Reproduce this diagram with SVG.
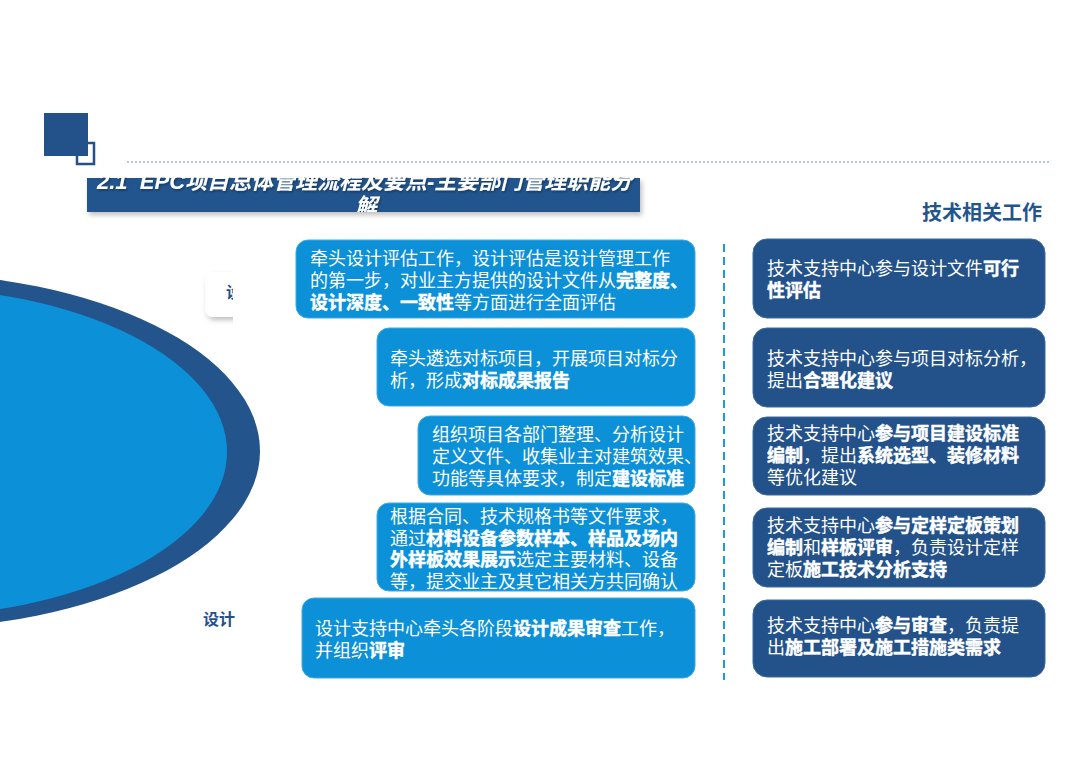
<svg xmlns="http://www.w3.org/2000/svg" width="1080" height="764" viewBox="0 0 1080 764">
<style>
.t{font-family:"Liberation Sans","Noto Sans CJK SC",sans-serif;font-size:18px;fill:#ffffff}
.b{font-weight:700;stroke:#ffffff;stroke-width:0.45}
.lb{fill:#0C90D8;stroke:#3FA9E4;stroke-width:1}
.db{fill:#23528B;stroke:#3C6AA0;stroke-width:1}
.lbl{font-family:"Liberation Sans","Noto Sans CJK SC",sans-serif;font-size:16px;font-weight:700;fill:#23528B}
.ttl{font-family:"Liberation Sans","Noto Sans CJK SC",sans-serif;font-size:22px;font-weight:700;font-style:italic;fill:#ffffff;white-space:pre}
</style>
<defs>
<filter id="sh" x="-20%" y="-20%" width="140%" height="160%">
<feDropShadow dx="2" dy="3" stdDeviation="2.5" flood-color="#000" flood-opacity="0.25"/>
</filter>
<filter id="tsh" x="-5%" y="-20%" width="110%" height="150%">
<feDropShadow dx="1" dy="1.5" stdDeviation="1" flood-color="#000" flood-opacity="0.35"/>
</filter>
<clipPath id="titleClip"><rect x="87" y="177" width="553" height="35"/></clipPath>
<clipPath id="lblTopClip"><rect x="200" y="270" width="33" height="60"/></clipPath>
<clipPath id="lblTopText"><rect x="226" y="280" width="7" height="25"/></clipPath>
<clipPath id="lblBotText"><rect x="198" y="611" width="37" height="18"/></clipPath>
</defs>
<rect width="1080" height="764" fill="#ffffff"/>

<g id="header">
<rect x="44" y="113" width="44" height="43" fill="#23528B"/>
<path d="M87,143 H94 V164 H77 V154" fill="none" stroke="#23528B" stroke-width="2.5"/>
<line x1="127" y1="162" x2="1050" y2="162" stroke="#A7B3C8" stroke-width="1.5" stroke-dasharray="2,2"/>
<rect x="87" y="178" width="553" height="34" fill="#23558D" filter="url(#sh)"/>
<g clip-path="url(#titleClip)" filter="url(#tsh)">
<text class="ttl" x="97" y="188.5">2.1  EPC项目总体管理流程及要点-主要部门管理职能分</text>
<text class="ttl" x="355" y="214">解</text>
</g>
<text x="1042" y="220" text-anchor="end" font-family="'Liberation Sans','Noto Sans CJK SC',sans-serif" font-size="20" font-weight="700" fill="#23558D">技术相关工作</text>
</g>

<g id="circle">
<ellipse cx="-100" cy="451" rx="360" ry="178" fill="#23548C"/>
<ellipse cx="-100" cy="452" rx="327" ry="165" fill="#0C90D8"/>
</g>

<g id="label-top">
<g clip-path="url(#lblTopClip)">
<rect x="205" y="272" width="40" height="45" rx="8" fill="#ffffff" filter="url(#sh)"/>
</g>
<text class="lbl" x="226" y="298" clip-path="url(#lblTopText)">设计</text>
</g>
<g id="label-bottom">
<text class="lbl" x="203" y="625" clip-path="url(#lblBotText)">设计</text>
</g>

<g id="connectors">
<line x1="724" y1="244" x2="724" y2="680" stroke="#1E9BDB" stroke-width="2" stroke-dasharray="8,5"/>
</g>

<g id="left-1">
<rect class="lb" x="296" y="240" width="399" height="78" rx="12"/>
<text class="t" x="310" y="265">牵头设计评估工作，设计评估是设计管理工作</text>
<text class="t" x="310" y="287">的第一步，对业主方提供的设计文件从</text>
<text class="t b" x="616" y="287">完整度、</text>
<text class="t b" x="310" y="309">设计深度、一致性</text>
<text class="t" x="454" y="309">等方面进行全面评估</text>
</g>
<g id="left-2">
<rect class="lb" x="377" y="328" width="318" height="78" rx="12"/>
<text class="t" x="390" y="365">牵头遴选对标项目，开展项目对标分</text>
<text class="t" x="390" y="387">析，形成</text>
<text class="t b" x="462" y="387">对标成果报告</text>
</g>
<g id="left-3">
<rect class="lb" x="418" y="416" width="277" height="79" rx="12"/>
<text class="t" x="432" y="441">组织项目各部门整理、分析设计</text>
<text class="t" x="432" y="463">定义文件、收集业主对建筑效果、</text>
<text class="t" x="432" y="485">功能等具体要求，制定</text>
<text class="t b" x="612" y="485">建设标准</text>
</g>
<g id="left-4">
<rect class="lb" x="377" y="503" width="318" height="88" rx="12"/>
<text class="t" x="390" y="523">根据合同、技术规格书等文件要求，</text>
<text class="t" x="390" y="544.5">通过</text>
<text class="t b" x="426" y="544.5">材料设备参数样本、样品及场内</text>
<text class="t b" x="390" y="566">外样板效果展示</text>
<text class="t" x="516" y="566">选定主要材料、设备</text>
<text class="t" x="390" y="587.5">等，提交业主及其它相关方共同确认</text>
</g>
<g id="left-5">
<rect class="lb" x="302" y="598" width="393" height="80" rx="12"/>
<text class="t" x="315" y="635">设计支持中心牵头各阶段</text>
<text class="t b" x="513" y="635">设计成果审查</text>
<text class="t" x="621" y="635">工作，</text>
<text class="t" x="315" y="657">并组织</text>
<text class="t b" x="369" y="657">评审</text>
</g>

<g id="right-1">
<rect class="db" x="753" y="239" width="292" height="79" rx="14"/>
<text class="t" x="767" y="275">技术支持中心参与设计文件</text>
<text class="t b" x="983" y="275">可行</text>
<text class="t b" x="767" y="297">性评估</text>
</g>
<g id="right-2">
<rect class="db" x="753" y="328" width="292" height="79" rx="14"/>
<text class="t" x="767" y="365">技术支持中心参与项目对标分析，</text>
<text class="t" x="767" y="387">提出</text>
<text class="t b" x="803" y="387">合理化建议</text>
</g>
<g id="right-3">
<rect class="db" x="753" y="417" width="292" height="78" rx="14"/>
<text class="t" x="767" y="440">技术支持中心</text>
<text class="t b" x="875" y="440">参与项目建设标准</text>
<text class="t b" x="767" y="462">编制</text>
<text class="t" x="803" y="462">，提出</text>
<text class="t b" x="857" y="462">系统选型、装修材料</text>
<text class="t" x="767" y="484">等优化建议</text>
</g>
<g id="right-4">
<rect class="db" x="753" y="508" width="292" height="79" rx="14"/>
<text class="t" x="767" y="532">技术支持中心</text>
<text class="t b" x="875" y="532">参与定样定板策划</text>
<text class="t b" x="767" y="554">编制</text>
<text class="t" x="803" y="554">和</text>
<text class="t b" x="821" y="554">样板评审</text>
<text class="t" x="893" y="554">，负责设计定样</text>
<text class="t" x="767" y="576">定板</text>
<text class="t b" x="803" y="576">施工技术分析支持</text>
</g>
<g id="right-5">
<rect class="db" x="753" y="600" width="292" height="77" rx="14"/>
<text class="t" x="767" y="632">技术支持中心</text>
<text class="t b" x="875" y="632">参与审查</text>
<text class="t" x="947" y="632">，负责提</text>
<text class="t" x="767" y="654">出</text>
<text class="t b" x="785" y="654">施工部署及施工措施类需求</text>
</g>
</svg>
